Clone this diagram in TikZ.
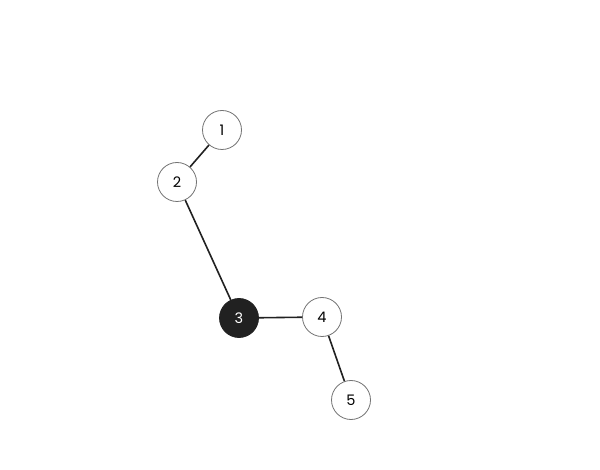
\documentclass[tikz,border=0pt]{standalone}
\usepackage{fontspec}
\setmainfont{Poppins}
\usetikzlibrary{positioning}

\begin{document}
\begin{tikzpicture}[x=1pt, y=-1pt, font=\fontsize{14.5}{16}\selectfont,
    vertex/.style={circle, draw=black!55, line width=0.8pt, fill=white, minimum size=39pt, inner sep=0pt},
    root/.style={vertex, draw=black!87, fill=black!87, text=white},
    link/.style={line width=1.6pt, draw=black!87}]
    \useasboundingbox (0,0) rectangle (600,470);

    \node[vertex] (n1) at (222,130) {1};
    \node[vertex] (n2) at (177,182) {2};
    \node[root]   (n3) at (239,318) {3};
    \node[vertex] (n4) at (322,317) {4};
    \node[vertex] (n5) at (351,400) {5};

    \draw[link] (n1) -- (n2);
    \draw[link] (n2) -- (n3);
    \draw[link] (n3) -- (n4);
    \draw[link] (n4) -- (n5);
\end{tikzpicture}
\end{document}
